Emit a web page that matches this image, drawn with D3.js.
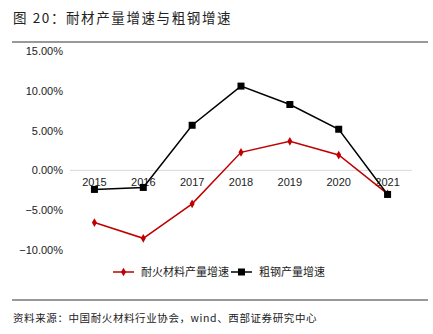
<!DOCTYPE html>
<html><head><meta charset="utf-8">
<script src="https://cdn.jsdelivr.net/npm/d3@7"></script>
<style>body{margin:0;background:#fff;}svg{display:block;}</style>
</head><body>
<script>
const years = ["2015","2016","2017","2018","2019","2020","2021"];
const refractoryGrowth = [-6.55, -8.53, -4.2, 2.27, 3.65, 1.93, -2.94];
const steelGrowth = [-2.39, -2.14, 5.67, 10.59, 8.28, 5.17, -3.02];
const yTicks = [-10, -5, 0, 5, 10, 15];
const seriesNames = ["耐火材料产量增速", "粗钢产量增速"];
const titleText = "图 20：耐材产量增速与粗钢增速";
const sourceText = "资料来源：中国耐火材料行业协会，wind、西部证券研究中心";

const W = 433, H = 334;
const svg = d3.select("body").append("svg").attr("width", W).attr("height", H);
const font = "'Noto Sans CJK SC', 'Noto Sans', sans-serif";

svg.append("text").attr("x", 13).attr("y", 23).attr("font-family", font)
  .attr("font-size", 13.5).attr("letter-spacing", 1.6).attr("fill", "#222").text(titleText);
svg.append("line").attr("x1", 12).attr("x2", 428).attr("y1", 42).attr("y2", 42)
  .attr("stroke", "#777").attr("stroke-width", 1.5);

const x = d3.scaleBand().domain(years).range([70, 412]);
const y = d3.scaleLinear().domain([-10, 15]).range([250, 51]);

// zero line
svg.append("line").attr("x1", 70).attr("x2", 412).attr("y1", y(0)).attr("y2", y(0))
  .attr("stroke", "#d9d9d9").attr("stroke-width", 1);

// y axis labels
const yAxis = d3.axisLeft(y).tickValues(yTicks).tickSize(0).tickPadding(0)
  .tickFormat(d => d3.format(".2f")(d) + "%");
const yg = svg.append("g").attr("transform", "translate(63,0)").call(yAxis);
yg.select(".domain").remove();
yg.selectAll("text").attr("font-family", "'Liberation Sans', Arial, sans-serif")
  .attr("font-size", 11).attr("fill", "#222");

// x axis labels at zero
const xAxis = d3.axisBottom(x).tickSize(0).tickPadding(0);
const xg = svg.append("g").attr("transform", `translate(0,${y(0)+8})`).call(xAxis);
xg.select(".domain").remove();
xg.selectAll("text").attr("font-family", "'Liberation Sans', Arial, sans-serif")
  .attr("font-size", 11).attr("fill", "#222");

const cx = d => x(d) + x.bandwidth()/2;
const line = d3.line().x((d,i) => cx(years[i])).y(d => y(d));

svg.append("path").datum(refractoryGrowth).attr("d", line).attr("fill", "none")
  .attr("stroke", "#c00000").attr("stroke-width", 1.5);
svg.append("g").selectAll("path").data(refractoryGrowth).join("path")
  .attr("transform", (d,i) => `translate(${cx(years[i])},${y(d)})`)
  .attr("d", d3.symbol(d3.symbolDiamond, 22)).attr("fill", "#c00000");

svg.append("path").datum(steelGrowth).attr("d", line).attr("fill", "none")
  .attr("stroke", "#000").attr("stroke-width", 1.5);
svg.append("g").selectAll("rect").data(steelGrowth).join("rect")
  .attr("x", (d,i) => cx(years[i]) - 3.5).attr("y", d => y(d) - 3.5)
  .attr("width", 7).attr("height", 7).attr("fill", "#000");

// legend
const ly = 272;
const leg = svg.append("g");
leg.append("line").attr("x1", 113).attr("x2", 134).attr("y1", ly).attr("y2", ly)
  .attr("stroke", "#c00000").attr("stroke-width", 1.5);
leg.append("path").attr("transform", `translate(123.5,${ly})`)
  .attr("d", d3.symbol(d3.symbolDiamond, 22)).attr("fill", "#c00000");
leg.append("text").attr("x", 141).attr("y", ly + 4).attr("font-family", font)
  .attr("font-size", 11).attr("fill", "#222").text(seriesNames[0]);
leg.append("line").attr("x1", 231).attr("x2", 252).attr("y1", ly).attr("y2", ly)
  .attr("stroke", "#000").attr("stroke-width", 1.5);
leg.append("rect").attr("x", 238).attr("y", ly - 3.5).attr("width", 7).attr("height", 7).attr("fill", "#000");
leg.append("text").attr("x", 259).attr("y", ly + 4).attr("font-family", font)
  .attr("font-size", 11).attr("fill", "#222").text(seriesNames[1]);

svg.append("line").attr("x1", 12).attr("x2", 428).attr("y1", 300).attr("y2", 300)
  .attr("stroke", "#777").attr("stroke-width", 1.5);
svg.append("text").attr("x", 13).attr("y", 322).attr("font-family", font)
  .attr("font-size", 10.5).attr("letter-spacing", 0.6).attr("fill", "#222").text(sourceText);
</script>
</body></html>
